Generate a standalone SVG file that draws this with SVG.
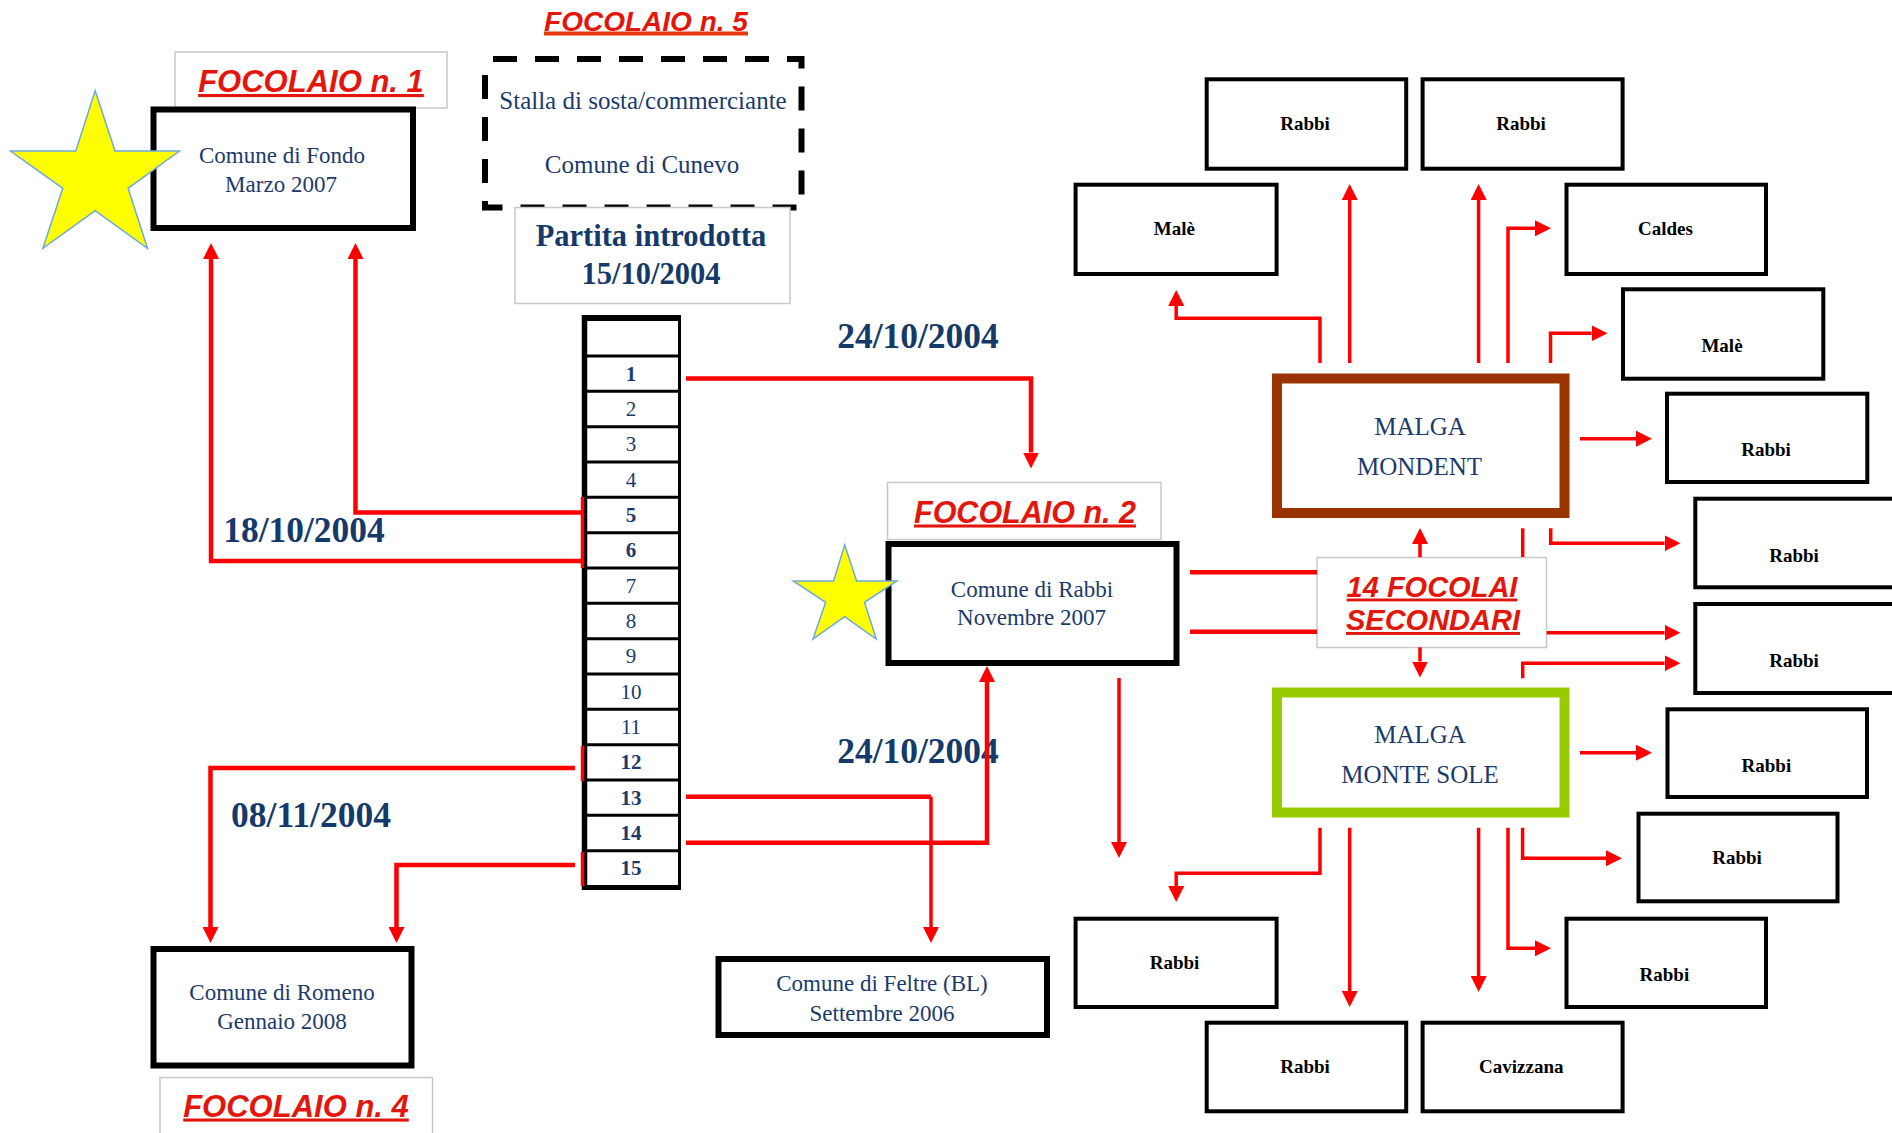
<svg xmlns="http://www.w3.org/2000/svg" width="1892" height="1133" viewBox="0 0 1892 1133">
<defs>
<style>
.lbl{fill:#fff;stroke:#c8c8c8;stroke-width:1.5}
.foc{font-family:"Liberation Sans",Arial,sans-serif;font-weight:bold;font-style:italic;fill:#e3160b;text-anchor:middle;text-decoration:underline}
.box{fill:#fff;stroke:#000;stroke-width:6}
.sbox{fill:#fff;stroke:#000;stroke-width:4}
.tn{font-family:"Liberation Serif","Times New Roman",serif;fill:#1b3a6b;text-anchor:middle;font-size:23px}
.tb{font-family:"Liberation Serif","Times New Roman",serif;fill:#000;text-anchor:middle;font-size:19px;font-weight:bold}
.date{font-family:"Liberation Serif","Times New Roman",serif;fill:#153a6a;text-anchor:middle;font-size:35.5px;font-weight:bold}
.num{font-family:"Liberation Serif","Times New Roman",serif;fill:#1b3a6b;text-anchor:middle;font-size:21px}
.nb{font-weight:bold}
.star{fill:#ffff00;stroke:#6fa8dc;stroke-width:1.5}
.c{fill:none;stroke:#ff0000;stroke-width:4.5}
.cr{fill:none;stroke:#ff0000;stroke-width:3.5}
.malga{font-family:"Liberation Serif","Times New Roman",serif;fill:#1b3a6b;text-anchor:middle;font-size:25px}
</style>
<marker id="ah" markerUnits="userSpaceOnUse" markerWidth="16" markerHeight="16" viewBox="0 0 16 16" refX="0" refY="8" orient="auto">
<path d="M0,0 L16,8 L0,16 z" fill="#ff0000"/>
</marker>
</defs>
<rect width="1892" height="1133" fill="#fff"/>

<g id="focolaio1-label">
<rect class="lbl" x="175" y="52" width="272" height="56"/>
<text class="foc" x="311" y="92" font-size="31">FOCOLAIO n. 1</text>
</g>
<g id="fondo">
<rect class="box" x="153.5" y="109.5" width="259.5" height="118.5"/>
<text class="tn" x="282" y="163">Comune di Fondo</text>
<text class="tn" x="281" y="192">Marzo 2007</text>
</g>
<g id="star1">
<polygon class="star" points="95.2,90.7 115,151 179.4,151 128.1,188.3 147.5,248.3 95.2,210.7 42.9,248.3 62.8,188.3 10.5,151 75.8,151"/>
</g>

<g id="focolaio5-label">
<text x="646" y="31" font-size="28" font-family="'Liberation Sans',Arial,sans-serif" font-weight="bold" font-style="italic" fill="#e3160b" text-anchor="middle">FOCOLAIO n. 5</text>
<line x1="544" y1="33.5" x2="748" y2="33.5" stroke="#e8380d" stroke-width="4"/>
</g>
<g id="stalla">
<rect x="485" y="59" width="316.5" height="148.5" fill="#fff" stroke="#000" stroke-width="6" stroke-dasharray="24 18" stroke-dashoffset="-8"/>
<text class="tn" x="643" y="109" font-size="25" style="font-size:25px">Stalla di sosta/commerciante</text>
<text class="tn" x="642" y="172.5" style="font-size:25px">Comune di Cunevo</text>
</g>
<g id="partita">
<rect class="lbl" x="515" y="207.5" width="275" height="96"/>
<text class="date" x="651" y="245.5" style="font-size:30.5px">Partita introdotta</text>
<text class="date" x="651" y="284" style="font-size:30.5px">15/10/2004</text>
</g>

<g id="table">
<rect x="582" y="315" width="99" height="575" fill="#fff"/>
<g stroke="#000" stroke-width="3">
<line x1="582" y1="356" x2="681" y2="356"/>
<line x1="582" y1="391.3" x2="681" y2="391.3"/>
<line x1="582" y1="426.7" x2="681" y2="426.7"/>
<line x1="582" y1="462" x2="681" y2="462"/>
<line x1="582" y1="497.3" x2="681" y2="497.3"/>
<line x1="582" y1="532.7" x2="681" y2="532.7"/>
<line x1="582" y1="568" x2="681" y2="568"/>
<line x1="582" y1="603.3" x2="681" y2="603.3"/>
<line x1="582" y1="638.7" x2="681" y2="638.7"/>
<line x1="582" y1="674" x2="681" y2="674"/>
<line x1="582" y1="709.3" x2="681" y2="709.3"/>
<line x1="582" y1="744.7" x2="681" y2="744.7"/>
<line x1="582" y1="780" x2="681" y2="780"/>
<line x1="582" y1="815.3" x2="681" y2="815.3"/>
<line x1="582" y1="850.7" x2="681" y2="850.7"/>
<line x1="679.5" y1="315" x2="679.5" y2="890"/>
</g>
<line x1="584.5" y1="315" x2="584.5" y2="890" stroke="#000" stroke-width="5.5"/>
<line x1="582" y1="318" x2="681" y2="318" stroke="#000" stroke-width="6"/>
<line x1="582" y1="887.5" x2="681" y2="887.5" stroke="#000" stroke-width="5"/>
<g stroke="#ff0000" stroke-width="3.5">
<line x1="582.5" y1="497" x2="582.5" y2="568"/>
<line x1="582.5" y1="746" x2="582.5" y2="781"/>
<line x1="582.5" y1="852" x2="582.5" y2="886"/>
</g>
<text class="num nb" x="631" y="380.5">1</text>
<text class="num" x="631" y="415.8">2</text>
<text class="num" x="631" y="451.2">3</text>
<text class="num" x="631" y="486.5">4</text>
<text class="num nb" x="631" y="521.8">5</text>
<text class="num nb" x="631" y="557.2">6</text>
<text class="num" x="631" y="592.5">7</text>
<text class="num" x="631" y="627.8">8</text>
<text class="num" x="631" y="663.2">9</text>
<text class="num" x="631" y="698.5">10</text>
<text class="num" x="631" y="733.8">11</text>
<text class="num nb" x="631" y="769.2">12</text>
<text class="num nb" x="631" y="804.5">13</text>
<text class="num nb" x="631" y="839.8">14</text>
<text class="num nb" x="631" y="875.2">15</text>
</g>

<g id="focolaio2-label">
<rect class="lbl" x="887.5" y="482.5" width="273.5" height="57"/>
<text class="foc" x="1025" y="522.5" font-size="30.5">FOCOLAIO n. 2</text>
</g>
<g id="rabbi-main">
<rect class="box" x="888.5" y="544" width="288" height="119"/>
<text class="tn" x="1032" y="596.5">Comune di Rabbi</text>
<text class="tn" x="1031.5" y="625">Novembre 2007</text>
</g>
<g id="star2">
<polygon class="star" points="844.7,545 856.6,581 896.9,581 864.5,602.3 876.3,639 844.7,616.7 813,639 825.7,602.3 793.3,581 833.6,581"/>
</g>

<g id="feltre">
<rect class="box" x="718.5" y="959" width="328.5" height="76"/>
<text class="tn" x="882" y="991">Comune di Feltre (BL)</text>
<text class="tn" x="882" y="1020.5">Settembre 2006</text>
</g>
<g id="romeno">
<rect class="box" x="153.5" y="949" width="258" height="116.5"/>
<text class="tn" x="282" y="1000">Comune di Romeno</text>
<text class="tn" x="282" y="1028.5">Gennaio 2008</text>
</g>
<g id="focolaio4-label">
<rect class="lbl" x="160" y="1077.5" width="272.5" height="60"/>
<text class="foc" x="296" y="1116.5" font-size="31">FOCOLAIO n. 4</text>
</g>

<g id="dates">
<text class="date" x="918" y="348">24/10/2004</text>
<text class="date" x="304" y="541.5">18/10/2004</text>
<text class="date" x="918" y="763">24/10/2004</text>
<text class="date" x="311" y="826.5">08/11/2004</text>
</g>

<g id="mondent">
<rect x="1277" y="378.5" width="287.5" height="134.5" fill="#fff" stroke="#993300" stroke-width="10"/>
<text class="malga" x="1420" y="435">MALGA</text>
<text class="malga" x="1419.5" y="475">MONDENT</text>
</g>
<g id="montesole">
<rect x="1277" y="692.5" width="287.5" height="120" fill="#fff" stroke="#99cc00" stroke-width="10"/>
<text class="malga" x="1420" y="742.5">MALGA</text>
<text class="malga" x="1420" y="782.5">MONTE SOLE</text>
</g>
<g id="focolai-secondari">
<rect class="lbl" x="1317" y="557.5" width="229.5" height="90"/>
<text class="foc" x="1432" y="596.5" font-size="29">14 FOCOLAI</text>
<text class="foc" x="1433" y="630" font-size="29">SECONDARI</text>
</g>

<g id="n-rabbi-tl"><rect class="sbox" x="1206.7" y="79.3" width="199.5" height="89.4"/><text class="tb" x="1305" y="130">Rabbi</text></g>
<g id="n-rabbi-tr"><rect class="sbox" x="1422.6" y="79.3" width="200" height="89.4"/><text class="tb" x="1521" y="130">Rabbi</text></g>
<g id="n-male-l"><rect class="sbox" x="1075.6" y="184.7" width="201" height="89.3"/><text class="tb" x="1174.3" y="235">Malè</text></g>
<g id="n-caldes"><rect class="sbox" x="1566.5" y="184.7" width="199.5" height="89.3"/><text class="tb" x="1665.5" y="235">Caldes</text></g>
<g id="n-male-r"><rect class="sbox" x="1623" y="289.3" width="200.3" height="89.4"/><text class="tb" x="1722" y="351.5">Malè</text></g>
<g id="n-rabbi-r1"><rect class="sbox" x="1667" y="393.7" width="200.3" height="88.3"/><text class="tb" x="1766" y="456">Rabbi</text></g>
<g id="n-rabbi-r2"><rect class="sbox" x="1695.3" y="498.7" width="200" height="88.6"/><text class="tb" x="1794" y="561.5">Rabbi</text></g>
<g id="n-rabbi-r3"><rect class="sbox" x="1695.3" y="604" width="200" height="89"/><text class="tb" x="1794" y="666.5">Rabbi</text></g>
<g id="n-rabbi-r4"><rect class="sbox" x="1667.5" y="709.3" width="199.5" height="87.7"/><text class="tb" x="1766.4" y="771.5">Rabbi</text></g>
<g id="n-rabbi-r5"><rect class="sbox" x="1638.5" y="813.7" width="199" height="87.6"/><text class="tb" x="1737" y="864">Rabbi</text></g>
<g id="n-rabbi-r6"><rect class="sbox" x="1566.5" y="918.7" width="199.5" height="88.3"/><text class="tb" x="1664.4" y="980.5">Rabbi</text></g>
<g id="n-rabbi-bl"><rect class="sbox" x="1075.6" y="918.7" width="201" height="88.3"/><text class="tb" x="1174.6" y="969.3">Rabbi</text></g>
<g id="n-rabbi-b"><rect class="sbox" x="1206.7" y="1022.7" width="199.5" height="88.6"/><text class="tb" x="1305" y="1073.3">Rabbi</text></g>
<g id="n-cavizzana"><rect class="sbox" x="1422.6" y="1022.7" width="200" height="88.6"/><text class="tb" x="1521.3" y="1073">Cavizzana</text></g>

<g id="connectors">
<path class="c" d="M581,512.5 H355.5 V259" marker-end="url(#ah)"/>
<path class="c" d="M581,561 H211 V259" marker-end="url(#ah)"/>
<path class="c" d="M686,378.5 H1031 V452.5" marker-end="url(#ah)"/>
<path class="c" d="M575,768 H210.5 V927" marker-end="url(#ah)"/>
<path class="c" d="M575,865 H396.5 V927" marker-end="url(#ah)"/>
<path class="c" d="M686,796.7 H931" />
<path class="cr" d="M931,796.7 V927" marker-end="url(#ah)"/>
<path class="c" d="M686,842.7 H987 V682" marker-end="url(#ah)"/>
<path class="cr" d="M1119,678 V842" marker-end="url(#ah)"/>
<path class="c" d="M1190,572.3 H1317"/>
<path class="c" d="M1190,631.7 H1317"/>

<path class="cr" d="M1320,363 V318.3 H1176.2 V306" marker-end="url(#ah)"/>
<path class="cr" d="M1349.7,363 V200" marker-end="url(#ah)"/>
<path class="cr" d="M1478.6,363 V200" marker-end="url(#ah)"/>
<path class="cr" d="M1508,363 V228.3 H1535" marker-end="url(#ah)"/>
<path class="cr" d="M1550.5,363 V333.3 H1591.5" marker-end="url(#ah)"/>
<path class="cr" d="M1580,438.7 H1636" marker-end="url(#ah)"/>
<path class="cr" d="M1522.7,528.3 V557"/>
<path class="cr" d="M1550.7,528.3 V543.3 H1664.5" marker-end="url(#ah)"/>
<path class="cr" d="M1420,557.3 V544" marker-end="url(#ah)"/>
<path class="cr" d="M1420,647.3 V661.5" marker-end="url(#ah)"/>
<path class="cr" d="M1546.7,632.7 H1664.5" marker-end="url(#ah)"/>
<path class="cr" d="M1522.7,678.3 V663.3 H1664.5" marker-end="url(#ah)"/>
<path class="cr" d="M1580,752.7 H1636" marker-end="url(#ah)"/>
<path class="cr" d="M1320,827.7 V873.3 H1176.2 V886" marker-end="url(#ah)"/>
<path class="cr" d="M1349.7,827.7 V991" marker-end="url(#ah)"/>
<path class="cr" d="M1478.6,827.7 V976" marker-end="url(#ah)"/>
<path class="cr" d="M1508,827.7 V948.3 H1535" marker-end="url(#ah)"/>
<path class="cr" d="M1522.6,827.7 V858.3 H1606" marker-end="url(#ah)"/>
</g>
</svg>
